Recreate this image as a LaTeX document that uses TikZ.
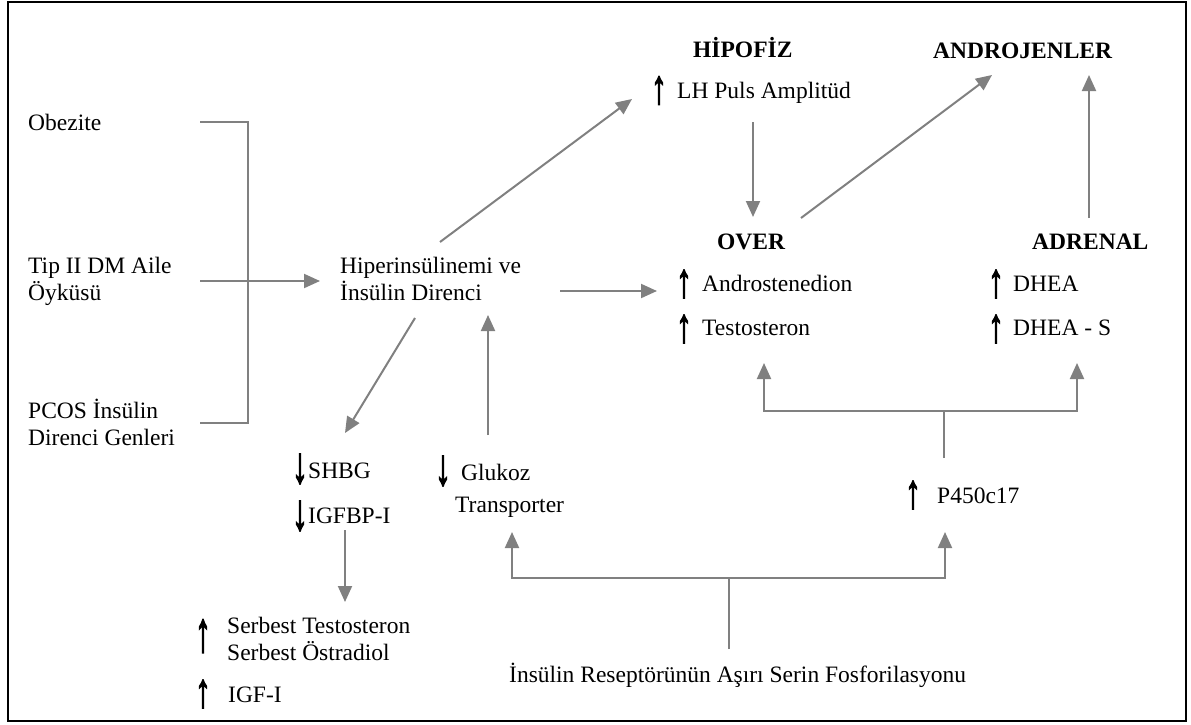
\documentclass[tikz,border=0pt]{standalone}
\usepackage{fontspec}
\setmainfont{Liberation Serif}
\newfontfamily\arrfont[FakeBold=3.5]{Liberation Serif}
\usetikzlibrary{arrows.meta}
\definecolor{conngray}{RGB}{128,128,128}
\newcommand{\uparr}{\resizebox*{15pt}{28pt}{\arrfont ↑}}
\newcommand{\uparrbig}{\resizebox*{15pt}{33pt}{\arrfont ↑}}
\newcommand{\dnarr}{\resizebox*{15pt}{30pt}{\arrfont ↓}}
\begin{document}
\begin{tikzpicture}[x=1pt,y=-1pt,
  lbl/.style={anchor=base west,inner sep=0pt,font=\fontsize{23.5}{27}\selectfont},
  bold/.style={anchor=base west,inner sep=0pt,font=\fontsize{23.5}{27}\selectfont\bfseries},
  sym/.style={inner sep=0pt,anchor=center},
  conn/.style={draw=conngray,line width=2pt},
  arr/.style={conn,-{Triangle[length=16pt,width=14pt]}}]
\useasboundingbox (0,0) rectangle (1191,725);
\draw[line width=1.6pt] (8,2) rectangle (1186,721);

% texts
\node[lbl] (obez) at (28,130) {Obezite};
\node[lbl] (tip1) at (28,273) {Tip II DM Aile};
\node[lbl] (tip2) at (28,300) {Öyküsü};
\node[lbl] (pcos1) at (28,418) {PCOS İnsülin};
\node[lbl] (pcos2) at (28,445) {Direnci Genleri};
\node[lbl] (hip1) at (340,273) {Hiperinsülinemi ve};
\node[lbl] (hip2) at (340,300) {İnsülin Direnci};
\node[bold] (hipofiz) at (693,58) {HİPOFİZ};
\node[sym] (lhar) at (659,90.5) {\uparr};
\node[lbl] (lh) at (677,98) {LH Puls Amplitüd};
\node[bold] (andro) at (933,59) {ANDROJENLER};
\node[bold] (over) at (717,249) {OVER};
\node[bold] (adrenal) at (1032,249) {ADRENAL};
\node[sym] (ar1) at (684,284) {\uparr};
\node[lbl] (andst) at (702,291) {Androstenedion};
\node[sym] (ar2) at (684,329) {\uparr};
\node[lbl] (testo) at (702,335) {Testosteron};
\node[sym] (ar3) at (996,284) {\uparr};
\node[lbl] (dhea) at (1013,291) {DHEA};
\node[sym] (ar4) at (996,329) {\uparr};
\node[lbl] (dheas) at (1013,335) {DHEA - S};
\node[sym] (ar5) at (913,495) {\uparr};
\node[lbl] (p450) at (937,503) {P450c17};
\node[sym] (ar6) at (443,471) {\dnarr};
\node[lbl] (glu1) at (461,480) {Glukoz};
\node[lbl] (glu2) at (455,512) {Transporter};
\node[sym] (ar7) at (300,469) {\dnarr};
\node[lbl] (shbg) at (308,478) {SHBG};
\node[sym] (ar8) at (300,516) {\dnarr};
\node[lbl] (igfbp) at (308,523) {IGFBP-I};
\node[sym] (ar9) at (203,636) {\uparrbig};
\node[lbl] (serb1) at (227,633) {Serbest Testosteron};
\node[lbl] (serb2) at (227,660) {Serbest Östradiol};
\node[sym] (ar10) at (203,694) {\uparr};
\node[lbl] (igf) at (228,702) {IGF-I};
\node[lbl] (ins) at (509,682) {İnsülin Reseptörünün Aşırı Serin Fosforilasyonu};

% connector end points
\coordinate (obezE) at (200,122);
\coordinate (pcosE) at (200,423);
\coordinate (brk) at (248,122);
\coordinate (tipE) at (200,281);
\coordinate (hipIn) at (320,281);
\coordinate (hipUp) at (440,242);
\coordinate (lhIn) at (632,99);
\coordinate (lhOut) at (753,122);
\coordinate (overIn) at (753,217);
\coordinate (overOut) at (801,218);
\coordinate (androIn) at (992,75);
\coordinate (adrOut) at (1089,218);
\coordinate (androIn2) at (1089,75);
\coordinate (hipR) at (560,291);
\coordinate (andIn) at (657,291);
\coordinate (gluOut) at (488,435);
\coordinate (hipBot) at (488,315);
\coordinate (hipDn) at (415,318);
\coordinate (shbgIn) at (345,433);
\coordinate (igfbpOut) at (345,530);
\coordinate (serbIn) at (345,602);
\coordinate (p450Out) at (944,458);
\coordinate (p450J) at (944,411);
\coordinate (testoIn) at (764,363);
\coordinate (dheaIn) at (1077,363);
\coordinate (insOut) at (729,649);
\coordinate (insJ) at (729,578);
\coordinate (gluIn) at (512,532);
\coordinate (p450In) at (945,532);

% connectors
\draw[conn] (obezE) -- (brk) |- (pcosE);
\draw[arr] (tipE) -- (hipIn);
\draw[arr] (hipUp) -- (lhIn);
\draw[arr] (lhOut) -- (overIn);
\draw[arr] (overOut) -- (androIn);
\draw[arr] (adrOut) -- (androIn2);
\draw[arr] (hipR) -- (andIn);
\draw[arr] (gluOut) -- (hipBot);
\draw[arr] (hipDn) -- (shbgIn);
\draw[arr] (igfbpOut) -- (serbIn);
\draw[arr] (p450Out) -- (p450J) -| (testoIn);
\draw[arr] (p450J) -| (dheaIn);
\draw[arr] (insOut) -- (insJ) -| (gluIn);
\draw[arr] (insJ) -| (p450In);
\end{tikzpicture}
\end{document}
